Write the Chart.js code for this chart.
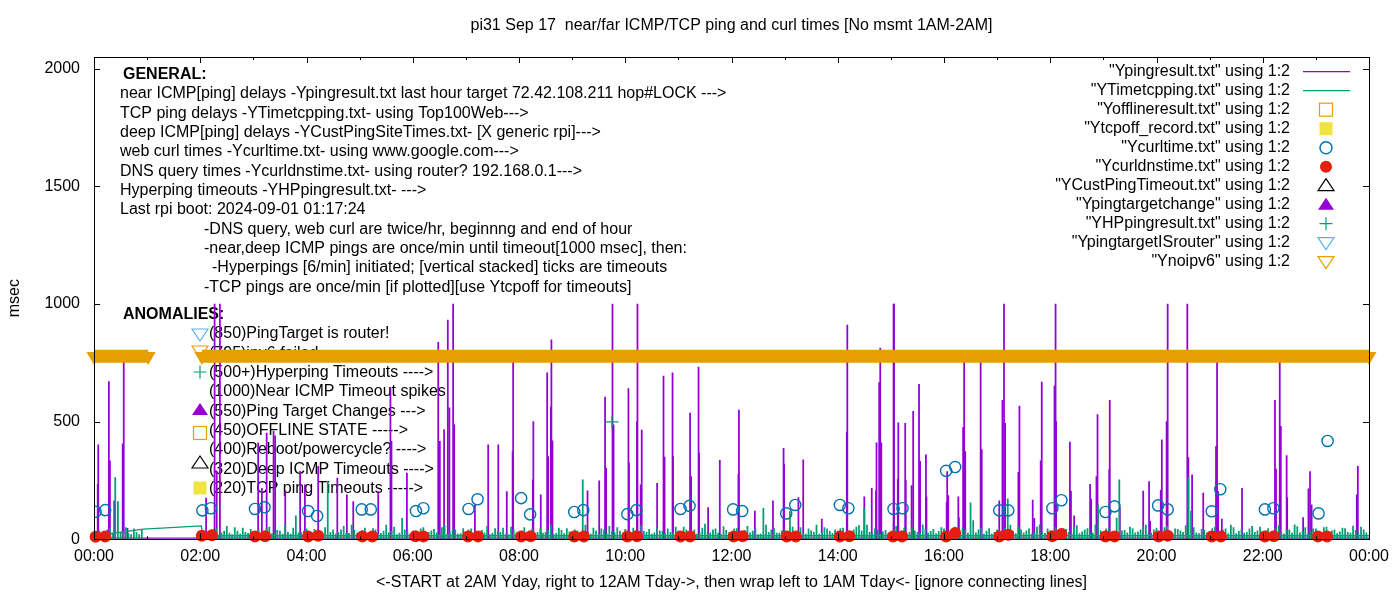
<!DOCTYPE html>
<html>
<head>
<meta charset="utf-8">
<title>pi31 ping and curl times</title>
<script src="https://cdn.jsdelivr.net/npm/chart.js@4.4.1/dist/chart.umd.min.js"></script>
<style>
  html, body { margin: 0; padding: 0; background: #fff; }
  #wrap { width: 1400px; height: 600px; position: relative; }
</style>
</head>
<body>
<div id="wrap"><canvas id="grafico"></canvas></div>
<script>
// ------------------------------------------------------
// pi31 - near/far ICMP/TCP ping and curl times (gnuplot look)
// ------------------------------------------------------

const FONTE = '"Liberation Sans", Arial, sans-serif';
const TAM = 16;

const ROXO = "#9400D3";
const VERDE = "#009E73";
const AZUL_CLARO = "#56B4E9";
const LARANJA = "#E69F00";
const AMARELO = "#F0E442";
const AZUL = "#0072B2";
const VERMELHO = "#E51E10";

// eixos
const xTickValues = [0, 2, 4, 6, 8, 10, 12, 14, 16, 18, 20, 22, 24];
const xTickLabels = ["00:00", "02:00", "04:00", "06:00", "08:00", "10:00", "12:00",
  "14:00", "16:00", "18:00", "20:00", "22:00", "00:00"];
const yTickValues = [0, 500, 1000, 1500, 2000];
const yTickLabels = ["0", "500", "1000", "1500", "2000"];

// near ICMP ping (Ypingresult.txt) - spikes, hours / msec
const pingSpikeTimes = [
  0.07, 0.08, 0.28, 0.30, 0.38, 0.54, 0.56, 0.63,
  2.11, 2.27, 2.31, 2.37,
  3.09, 3.16, 3.25, 3.38, 3.41, 3.60, 3.88, 3.97,
  4.22, 4.58, 4.76, 4.88,
  5.35, 5.58, 5.60, 5.89,
  6.48, 6.51, 6.59, 6.66, 6.69, 6.76, 6.78,
  7.17, 7.42, 7.61, 7.77, 7.88, 7.89,
  8.26, 8.27, 8.41, 8.53, 8.55, 8.60, 8.61, 8.63,
  9.29, 9.51, 9.62, 9.64, 9.76, 9.78,
  10.06, 10.07, 10.22, 10.23, 10.29, 10.31, 10.60, 10.72, 10.74, 10.89, 10.90,
  11.22, 11.24, 11.38, 11.39, 11.56, 11.78,
  12.13, 12.14, 12.44, 12.78, 12.98, 12.99,
  13.26, 13.35, 13.70,
  14.17, 14.18, 14.50, 14.64, 14.72, 14.73, 14.78, 14.80, 14.82,
  15.05, 15.06, 15.13, 15.14, 15.27, 15.28, 15.39, 15.42, 15.53, 15.55, 15.66, 15.67,
  16.05, 16.06, 16.08, 16.27, 16.28, 16.36, 16.38, 16.40, 16.69, 16.71,
  17.04, 17.10, 17.13, 17.15, 17.40, 17.42, 17.67, 17.70, 17.82, 17.84,
  18.08, 18.10, 18.11, 18.37, 18.39, 18.45, 18.75, 18.77, 18.87, 18.89,
  19.11, 19.12, 19.31, 19.75, 19.86, 19.88,
  20.08, 20.10, 20.19, 20.21, 20.58, 20.60, 20.67, 20.88,
  21.12, 21.14, 21.16, 21.23, 21.61,
  22.23, 22.25, 22.32, 22.34, 22.45, 22.46, 22.76, 22.86, 22.89, 22.92,
  23.77, 23.79
];
const pingSpikeValues = [
  234, 402, 670, 334, 163, 406, 780, 47,
  175, 1000, 290, 1000,
  410, 217, 452, 459, 440, 203, 289, 231,
  310, 260, 189, 160,
  203, 644, 416, 281,
  837, 416, 466, 932, 559, 1000, 487,
  146, 402, 402, 203, 373, 780,
  253, 500, 189, 708, 352, 562, 848, 419,
  206, 249, 604, 303, 1000, 487,
  641, 324, 500, 1000, 231, 464, 238, 694, 349, 708, 352,
  537, 267, 732, 366, 135, 336,
  277, 549, 120, 163, 387, 320,
  177, 338, 86,
  456, 911, 181, 217, 206, 410, 666, 813, 410,
  1000, 1000, 256, 495, 493, 252, 228, 544, 659, 331, 359, 181,
  157, 288, 186, 181, 92, 476, 780, 373, 780, 381,
  163, 591, 1000, 493, 285, 566, 167, 89, 334, 668,
  651, 1000, 500, 413, 205, 100, 234, 171, 267, 530,
  295, 591, 132, 205, 245, 76,
  208, 423, 500, 1000, 1000, 347, 274, 196,
  394, 780, 203, 86, 217,
  591, 298, 780, 480, 356, 177, 92, 214, 288, 146,
  189, 310
];
const pingBaseTimes = [0, 24];
const pingBaseValues = [5, 5];

// TCP ping (YTimetcpping.txt) - base line (with the 1AM-2AM connecting line) and ticks
const tcpLineTimes = [0, 0.93, 2.02, 2.05, 24];
const tcpLineValues = [15, 43, 57, 15, 15];
const tcpTickTimes = [
  0.0, 0.1, 0.2, 0.3, 0.4, 0.5, 0.6, 0.7, 0.8, 0.9,
  2.1, 2.2, 2.3, 2.4, 2.5, 2.6, 2.7, 2.8, 2.9,
  3.0, 3.1, 3.2, 3.3, 3.4, 3.5, 3.6, 3.7, 3.8, 3.9,
  4.0, 4.1, 4.2, 4.3, 4.4, 4.5, 4.6, 4.7, 4.8, 4.9,
  5.0, 5.1, 5.2, 5.3, 5.4, 5.5, 5.6, 5.7, 5.8, 5.9,
  6.0, 6.1, 6.2, 6.3, 6.4, 6.5, 6.6, 6.7, 6.8, 6.9,
  7.0, 7.1, 7.2, 7.3, 7.4, 7.5, 7.6, 7.7, 7.8, 7.9,
  8.0, 8.1, 8.2, 8.3, 8.4, 8.5, 8.6, 8.7, 8.8, 8.9,
  9.0, 9.1, 9.2, 9.3, 9.4, 9.5, 9.6, 9.7, 9.8, 9.9,
  10.0, 10.1, 10.2, 10.3, 10.4, 10.5, 10.6, 10.7, 10.8, 10.9,
  11.0, 11.1, 11.2, 11.3, 11.4, 11.5, 11.6, 11.7, 11.8, 11.9,
  12.0, 12.1, 12.2, 12.3, 12.4, 12.5, 12.6, 12.7, 12.8, 12.9,
  13.0, 13.1, 13.2, 13.3, 13.4, 13.5, 13.6, 13.7, 13.8, 13.9,
  14.0, 14.1, 14.2, 14.3, 14.4, 14.5, 14.6, 14.7, 14.8, 14.9,
  15.0, 15.1, 15.2, 15.3, 15.4, 15.5, 15.6, 15.7, 15.8, 15.9,
  16.0, 16.1, 16.2, 16.3, 16.4, 16.5, 16.6, 16.7, 16.8, 16.9,
  17.0, 17.1, 17.2, 17.3, 17.4, 17.5, 17.6, 17.7, 17.8, 17.9,
  18.0, 18.1, 18.2, 18.3, 18.4, 18.5, 18.6, 18.7, 18.8, 18.9,
  19.0, 19.1, 19.2, 19.3, 19.4, 19.5, 19.6, 19.7, 19.8, 19.9,
  20.0, 20.1, 20.2, 20.3, 20.4, 20.5, 20.6, 20.7, 20.8, 20.9,
  21.0, 21.1, 21.2, 21.3, 21.4, 21.5, 21.6, 21.7, 21.8, 21.9,
  22.0, 22.1, 22.2, 22.3, 22.4, 22.5, 22.6, 22.7, 22.8, 22.9,
  23.0, 23.1, 23.2, 23.3, 23.4, 23.5, 23.6, 23.7, 23.8, 23.9
];
const tcpTickValues = [
  20, 35, 25, 45, 262, 30, 50, 20, 30, 38,
  30, 22, 45, 28, 55, 20, 35, 48, 25,
  18, 40, 30, 52, 25, 35, 60, 22, 100, 30,
  45, 28, 35, 20, 245, 40, 30, 55, 25, 38,
  22, 48, 30, 40, 25, 60, 35, 20, 89, 30,
  35, 25, 50, 30, 42, 20, 58, 28, 40, 24,
  30, 45, 22, 38, 55, 26, 34, 48, 20, 40,
  28, 50, 35, 22, 44, 30, 62, 25, 38, 46,
  24, 36, 253, 30, 48, 20, 40, 55, 28, 35,
  42, 26, 38, 60, 30, 22, 50, 34, 45, 28,
  36, 52, 24, 40, 30, 65, 28, 44, 22, 38,
  30, 46, 25, 55, 35, 20, 132, 30, 48, 26,
  40, 118, 28, 50, 22, 36, 60, 30, 45, 25,
  35, 48, 26, 40, 58, 132, 30, 44, 22, 38,
  28, 55, 36, 24, 50, 30, 62, 26, 42, 34,
  45, 30, 52, 24, 38, 155, 28, 48, 35, 22,
  40, 26, 172, 34, 55, 28, 44, 30, 60, 25,
  36, 50, 28, 42, 24, 58, 32, 46, 26, 146,
  30, 44, 24, 253, 38, 52, 28, 40, 60, 26,
  48, 32, 56, 26, 42, 30, 262, 50, 24, 38,
  34, 52, 28, 44, 60, 24, 40, 30, 55, 36,
  26, 46, 32, 58, 22, 40, 61, 28, 50, 34,
  44, 28, 52, 36, 24, 48, 30, 56, 26, 40
];
const tcpTick2Times = [
  0.05, 0.15, 0.25, 0.35, 0.45, 0.55, 0.65, 0.75, 0.85,
  2.15, 2.25, 2.35, 2.45, 2.55, 2.65, 2.75, 2.85, 2.95,
  3.05, 3.15, 3.25, 3.35, 3.45, 3.55, 3.65, 3.75, 3.85, 3.95,
  4.05, 4.15, 4.25, 4.35, 4.45, 4.55, 4.65, 4.75, 4.85, 4.95,
  5.05, 5.15, 5.25, 5.35, 5.45, 5.55, 5.65, 5.75, 5.85, 5.95,
  6.05, 6.15, 6.25, 6.35, 6.45, 6.55, 6.65, 6.75, 6.85, 6.95,
  7.05, 7.15, 7.25, 7.35, 7.45, 7.55, 7.65, 7.75, 7.85, 7.95,
  8.05, 8.15, 8.25, 8.35, 8.45, 8.55, 8.65, 8.75, 8.85, 8.95,
  9.05, 9.15, 9.25, 9.35, 9.45, 9.55, 9.65, 9.75, 9.85, 9.95,
  10.05, 10.15, 10.25, 10.35, 10.45, 10.55, 10.65, 10.75, 10.85, 10.95,
  11.05, 11.15, 11.25, 11.35, 11.45, 11.55, 11.65, 11.75, 11.85, 11.95,
  12.05, 12.15, 12.25, 12.35, 12.45, 12.55, 12.65, 12.75, 12.85, 12.95,
  13.05, 13.15, 13.25, 13.35, 13.45, 13.55, 13.65, 13.75, 13.85, 13.95,
  14.05, 14.15, 14.25, 14.35, 14.45, 14.55, 14.65, 14.75, 14.85, 14.95,
  15.05, 15.15, 15.25, 15.35, 15.45, 15.55, 15.65, 15.75, 15.85, 15.95,
  16.05, 16.15, 16.25, 16.35, 16.45, 16.55, 16.65, 16.75, 16.85, 16.95,
  17.05, 17.15, 17.25, 17.35, 17.45, 17.55, 17.65, 17.75, 17.85, 17.95,
  18.05, 18.15, 18.25, 18.35, 18.45, 18.55, 18.65, 18.75, 18.85, 18.95,
  19.05, 19.15, 19.25, 19.35, 19.45, 19.55, 19.65, 19.75, 19.85, 19.95,
  20.05, 20.15, 20.25, 20.35, 20.45, 20.55, 20.65, 20.75, 20.85, 20.95,
  21.05, 21.15, 21.25, 21.35, 21.45, 21.55, 21.65, 21.75, 21.85, 21.95,
  22.05, 22.15, 22.25, 22.35, 22.45, 22.55, 22.65, 22.75, 22.85, 22.95,
  23.05, 23.15, 23.25, 23.35, 23.45, 23.55, 23.65, 23.75, 23.85, 23.95
];
const tcpTick2Values = [
  30, 18, 40, 22, 160, 28, 24, 45, 20,
  25, 40, 18, 35, 26, 50, 22, 30, 42,
  28, 20, 45, 24, 38, 22, 30, 48, 26, 35,
  20, 42, 26, 50, 30, 22, 40, 28, 60, 24,
  38, 24, 46, 20, 35, 28, 52, 26, 40, 22,
  26, 44, 20, 36, 28, 50, 24, 38, 22, 46,
  40, 24, 34, 28, 20, 46, 30, 22, 52, 26,
  36, 22, 44, 30, 26, 38, 20, 48, 24, 32,
  40, 28, 60, 22, 36, 44, 26, 32, 50, 24,
  30, 48, 22, 34, 42, 28, 36, 24, 30, 52,
  26, 40, 32, 22, 48, 30, 40, 26, 54, 28,
  44, 24, 38, 28, 46, 22, 60, 40, 26, 36,
  28, 52, 36, 24, 44, 30, 22, 50, 34, 40,
  46, 30, 24, 52, 36, 60, 26, 40, 32, 24,
  40, 22, 48, 30, 36, 26, 44, 34, 24, 50,
  28, 42, 36, 50, 26, 80, 40, 22, 46, 30,
  34, 48, 60, 24, 40, 36, 22, 52, 30, 44,
  26, 38, 46, 30, 52, 24, 40, 28, 60, 36,
  44, 24, 90, 36, 28, 46, 32, 52, 24, 40,
  30, 50, 24, 44, 36, 58, 120, 28, 42, 26,
  46, 30, 40, 24, 50, 34, 26, 44, 30, 52,
  36, 24, 48, 30, 40, 26, 54, 34, 22, 44,
  30, 50, 24, 40, 32, 46, 26, 38, 52, 28
];

// web curl (Ycurltime.txt)
const curlTimes = [0.03, 0.21, 2.04, 2.20, 3.03, 3.21, 4.03, 4.20, 5.04, 5.21, 6.06, 6.20,
  7.05, 7.22, 8.04, 8.21, 9.04, 9.21, 10.04, 10.21, 11.04, 11.21, 12.03, 12.20,
  13.03, 13.20, 14.04, 14.20, 15.05, 15.22, 16.04, 16.21, 17.04, 17.21, 18.04, 18.21,
  19.04, 19.21, 20.03, 20.21, 21.04, 21.20, 22.04, 22.20, 23.05, 23.22];
const curlValues = [117, 124, 123, 132, 129, 136, 120, 99, 127, 127, 120, 132,
  129, 170, 175, 106, 116, 124, 107, 124, 129, 142, 127, 120,
  110, 146, 146, 132, 129, 132, 291, 307, 123, 123, 132, 166,
  116, 140, 144, 127, 119, 213, 127, 132, 110, 418];

// DNS query (Ycurldnstime.txt)
const dnsTimes = [0.03, 0.21, 2.03, 2.22, 3.03, 3.22, 4.03, 4.22, 5.05, 5.24, 6.05, 6.20,
  7.04, 7.23, 8.04, 8.22, 9.04, 9.22, 10.04, 10.22, 11.04, 11.22, 12.04, 12.21,
  13.04, 13.21, 14.04, 14.22, 15.04, 15.21, 16.04, 16.21, 17.04, 17.21, 18.04, 18.21,
  19.04, 19.21, 20.04, 20.21, 21.04, 21.21, 22.04, 22.21, 23.04, 23.21];
const dnsValues = [11, 12, 15, 17, 12, 13, 12, 15, 12, 12, 13, 12,
  12, 12, 12, 13, 12, 12, 12, 13, 12, 12, 12, 13,
  12, 12, 12, 13, 12, 12, 12, 27, 12, 19, 13, 22,
  12, 12, 12, 15, 12, 12, 12, 13, 12, 12];

// Hyperping timeouts (YHPpingresult.txt)
const hpTimes = [9.75];
const hpValues = [499];

// ipv6 failed (Ynoipv6) - once/min, no msmt 1AM-2AM
const noipv6Times = [0, 1.02, 1.5, 2.03, 24];
const noipv6Values = [778, 778, null, 778, 778];

// textos
const tituloGrafico = "pi31 Sep 17  near/far ICMP/TCP ping and curl times [No msmt 1AM-2AM]";
const tituloX = "<-START at 2AM Yday, right to 12AM Tday->, then wrap left to 1AM Tday<- [ignore connecting lines]";
const tituloY = "msec";

const linhasGeral = [
  [120, "near ICMP[ping] delays -Ypingresult.txt last hour target 72.42.108.211 hop#LOCK --->"],
  [120, "TCP ping delays -YTimetcpping.txt- using Top100Web--->"],
  [120, "deep ICMP[ping] delays -YCustPingSiteTimes.txt- [X generic rpi]--->"],
  [120, "web curl times -Ycurltime.txt- using www.google.com--->"],
  [120, "DNS query times -Ycurldnstime.txt- using router? 192.168.0.1--->"],
  [120, "Hyperping timeouts -YHPpingresult.txt- --->"],
  [120, "Last rpi boot: 2024-09-01 01:17:24"],
  [204, "-DNS query, web curl are twice/hr, beginnng and end of hour"],
  [204, "-near,deep ICMP pings are once/min until timeout[1000 msec], then:"],
  [212, "-Hyperpings [6/min] initiated; [vertical stacked] ticks are timeouts"],
  [204, "-TCP pings are once/min [if plotted][use Ytcpoff for timeouts]"]
];

const linhasAnomalia = [
  ["triDownOpen", AZUL_CLARO, 334, "(850)PingTarget is router!"],
  ["triDownOpen", LARANJA, 351, "(795)ipv6 failed"],
  ["plus", VERDE, 372, "(500+)Hyperping Timeouts ---->"],
  [null, null, 0, "(1000)Near ICMP Timeout spikes"],
  ["triUpFill", ROXO, 410, "(550)Ping Target Changes --->"],
  ["sqOpen", LARANJA, 433, "(450)OFFLINE STATE ----->"],
  [null, null, 0, "(400)Reboot/powercycle? ---->"],
  ["triUpOpen", "#000", 463, "(320)Deep ICMP Timeouts ---->"],
  ["sqFill", AMARELO, 488, "(220)TCP ping Timeouts ----->"]
];

const legenda = [
  ['"Ypingresult.txt" using 1:2', "line", ROXO],
  ['"YTimetcpping.txt" using 1:2', "line", VERDE],
  ['"Yofflineresult.txt" using 1:2', "sqOpen", LARANJA],
  ['"Ytcpoff_record.txt" using 1:2', "sqFill", AMARELO],
  ['"Ycurltime.txt" using 1:2', "circOpen", AZUL],
  ['"Ycurldnstime.txt" using 1:2', "circFill", VERMELHO],
  ['"YCustPingTimeout.txt" using 1:2', "triUpOpen", "#000"],
  ['"Ypingtargetchange" using 1:2', "triUpFill", ROXO],
  ['"YHPpingresult.txt" using 1:2', "plus", VERDE],
  ['"YpingtargetISrouter" using 1:2', "triDownOpen", AZUL_CLARO],
  ['"Ynoipv6" using 1:2', "triDownOpen", LARANJA]
];

function pontos(xs, ys) {
  return xs.map((x, i) => ({ x: x, y: ys[i] }));
}

// desenha os simbolos do gnuplot
function simbolo(ctx, tipo, x, y, cor) {
  ctx.save();
  ctx.strokeStyle = cor;
  ctx.fillStyle = cor;
  ctx.lineWidth = 1.2;
  ctx.beginPath();
  if (tipo === "line") {
    ctx.moveTo(x - 23, y);
    ctx.lineTo(x + 24, y);
    ctx.stroke();
  } else if (tipo === "sqOpen") {
    ctx.strokeRect(x - 6.5, y - 6.5, 13, 13);
  } else if (tipo === "sqFill") {
    ctx.fillRect(x - 6.5, y - 6.5, 13, 13);
  } else if (tipo === "circOpen" || tipo === "circFill") {
    ctx.lineWidth = 1.5;
    ctx.arc(x, y, 6, 0, Math.PI * 2);
    if (tipo === "circFill") ctx.fill(); else ctx.stroke();
  } else if (tipo === "triUpOpen" || tipo === "triUpFill") {
    ctx.moveTo(x, y - 7);
    ctx.lineTo(x + 8, y + 5);
    ctx.lineTo(x - 8, y + 5);
    ctx.closePath();
    if (tipo === "triUpFill") ctx.fill(); else ctx.stroke();
  } else if (tipo === "triDownOpen") {
    ctx.moveTo(x - 8, y - 5);
    ctx.lineTo(x + 8, y - 5);
    ctx.lineTo(x, y + 7);
    ctx.closePath();
    ctx.stroke();
  } else if (tipo === "plus") {
    ctx.moveTo(x - 6.5, y);
    ctx.lineTo(x + 6.5, y);
    ctx.moveTo(x, y - 6.5);
    ctx.lineTo(x, y + 6.5);
    ctx.stroke();
  }
  ctx.restore();
}

const decoracao = {
  id: "decoracao",
  beforeDatasetsDraw(chart) {
    const ctx = chart.ctx;
    ctx.save();
    ctx.fillStyle = "#000";
    ctx.textAlign = "left";
    ctx.textBaseline = "middle";
    ctx.font = "bold " + TAM + "px " + FONTE;
    ctx.fillText("GENERAL:", 123, 75);
    ctx.font = TAM + "px " + FONTE;
    linhasGeral.forEach((l, i) => ctx.fillText(l[1], l[0], 94 + i * 19.33));

    ctx.font = "bold " + TAM + "px " + FONTE;
    ctx.fillText("ANOMALIES:", 123, 315);
    ctx.font = TAM + "px " + FONTE;
    linhasAnomalia.forEach((l, i) => {
      if (l[0]) simbolo(ctx, l[0], 200, l[2], l[1]);
      ctx.fillStyle = "#000";
      ctx.fillText(l[3], 209, 334 + i * 19.33);
    });
    ctx.restore();
  },
  afterDatasetsDraw(chart) {
    const ctx = chart.ctx;
    const area = chart.chartArea;
    const sx = chart.scales.x;
    const sy = chart.scales.y;
    ctx.save();

    // moldura
    ctx.strokeStyle = "#000";
    ctx.lineWidth = 1;
    ctx.strokeRect(Math.round(area.left) + 0.5, Math.round(area.top) + 0.5,
      Math.round(area.right - area.left), Math.round(area.bottom - area.top));

    // marcas para dentro (todas as bordas)
    ctx.beginPath();
    for (let h = 0; h <= 24; h++) {
      const px = Math.round(sx.getPixelForValue(h)) + 0.5;
      const tam = h % 2 === 0 ? 6 : 3;
      ctx.moveTo(px, area.bottom);
      ctx.lineTo(px, area.bottom - tam);
      ctx.moveTo(px, area.top);
      ctx.lineTo(px, area.top + tam);
    }
    yTickValues.forEach((v) => {
      const py = Math.round(sy.getPixelForValue(v)) + 0.5;
      ctx.moveTo(area.left, py);
      ctx.lineTo(area.left + 6, py);
      ctx.moveTo(area.right, py);
      ctx.lineTo(area.right - 6, py);
    });
    ctx.stroke();

    // titulo
    ctx.fillStyle = "#000";
    ctx.font = TAM + "px " + FONTE;
    ctx.textAlign = "center";
    ctx.textBaseline = "middle";
    ctx.fillText(tituloGrafico, (area.left + area.right) / 2, 26);

    // legenda
    ctx.textAlign = "right";
    legenda.forEach((item, i) => {
      const y = 71.7 + i * 19.0;
      ctx.fillStyle = "#000";
      ctx.fillText(item[0], 1290, y);
      simbolo(ctx, item[1], 1326, y, item[2]);
    });
    ctx.restore();
  }
};

Chart.defaults.font.family = FONTE;
Chart.defaults.font.size = TAM;
Chart.defaults.color = "#000";

new Chart(document.getElementById("grafico"), {
  type: "bar",
  data: {
    datasets: [
      {
        type: "line",
        label: "Ynoipv6",
        data: pontos(noipv6Times, noipv6Values),
        borderColor: LARANJA,
        backgroundColor: LARANJA,
        borderWidth: 13,
        borderCapStyle: "butt",
        pointStyle: "triangle",
        pointRotation: 180,
        pointRadius: 8.7,
        pointBorderWidth: 0,
        pointBackgroundColor: LARANJA,
        spanGaps: false,
        clip: false,
        order: 0
      },
      {
        type: "line",
        label: "YHPpingresult.txt",
        data: pontos(hpTimes, hpValues),
        showLine: false,
        pointStyle: "cross",
        pointRadius: 6.5,
        borderColor: VERDE,
        pointBorderWidth: 1.2,
        order: 1
      },
      {
        type: "line",
        label: "Ycurldnstime.txt",
        data: pontos(dnsTimes, dnsValues),
        showLine: false,
        pointStyle: "circle",
        pointRadius: 6,
        pointBackgroundColor: VERMELHO,
        pointBorderColor: VERMELHO,
        pointBorderWidth: 0,
        clip: false,
        order: 2
      },
      {
        type: "line",
        label: "Ycurltime.txt",
        data: pontos(curlTimes, curlValues),
        showLine: false,
        pointStyle: "circle",
        pointRadius: 5.6,
        pointBackgroundColor: "rgba(0,0,0,0)",
        pointBorderColor: AZUL,
        pointBorderWidth: 1.4,
        order: 3
      },
      {
        type: "line",
        label: "YTimetcpping.txt",
        data: pontos(tcpLineTimes, tcpLineValues),
        borderColor: VERDE,
        borderWidth: 1.3,
        pointRadius: 0,
        order: 4
      },
      {
        type: "bar",
        label: "YTimetcpping.txt ticks",
        data: pontos(tcpTickTimes, tcpTickValues),
        backgroundColor: VERDE,
        barThickness: 1.1,
        grouped: false,
        order: 5
      },
      {
        type: "bar",
        label: "YTimetcpping.txt ticks 2",
        data: pontos(tcpTick2Times, tcpTick2Values),
        backgroundColor: VERDE,
        barThickness: 1.1,
        grouped: false,
        order: 5
      },
      {
        type: "line",
        label: "Ypingresult.txt base",
        data: pontos(pingBaseTimes, pingBaseValues),
        borderColor: ROXO,
        borderWidth: 1.3,
        pointRadius: 0,
        order: 6
      },
      {
        type: "bar",
        label: "Ypingresult.txt",
        data: pontos(pingSpikeTimes, pingSpikeValues),
        backgroundColor: ROXO,
        barThickness: 1.1,
        grouped: false,
        order: 7
      }
    ]
  },
  options: {
    responsive: true,
    maintainAspectRatio: false,
    animation: false,
    events: [],
    layout: { padding: { top: 57, right: 31, left: 0, bottom: 0 } },
    plugins: {
      legend: { display: false },
      tooltip: { enabled: false },
      title: { display: false }
    },
    scales: {
      x: {
        type: "linear",
        min: 0,
        max: 24,
        offset: false,
        grid: { display: false, drawTicks: false },
        border: { display: false },
        ticks: {
          autoSkip: false,
          maxRotation: 0,
          padding: 8,
          callback: (v, i) => xTickLabels[i]
        },
        afterBuildTicks: (escala) => { escala.ticks = xTickValues.map((v) => ({ value: v })); },
        title: { display: true, text: tituloX, padding: { top: 4, bottom: 8 } },
        afterFit: (escala) => { escala.height = 60.7; }
      },
      y: {
        min: 0,
        max: 2050,
        grid: { display: false, drawTicks: false },
        border: { display: false },
        ticks: {
          padding: 14,
          callback: (v, i) => yTickLabels[i]
        },
        afterBuildTicks: (escala) => { escala.ticks = yTickValues.map((v) => ({ value: v })); },
        title: { display: true, text: tituloY, padding: { top: 5, bottom: 0 } },
        afterFit: (escala) => { escala.width = 94; }
      }
    }
  },
  plugins: [decoracao]
});
</script>
</body>
</html>
